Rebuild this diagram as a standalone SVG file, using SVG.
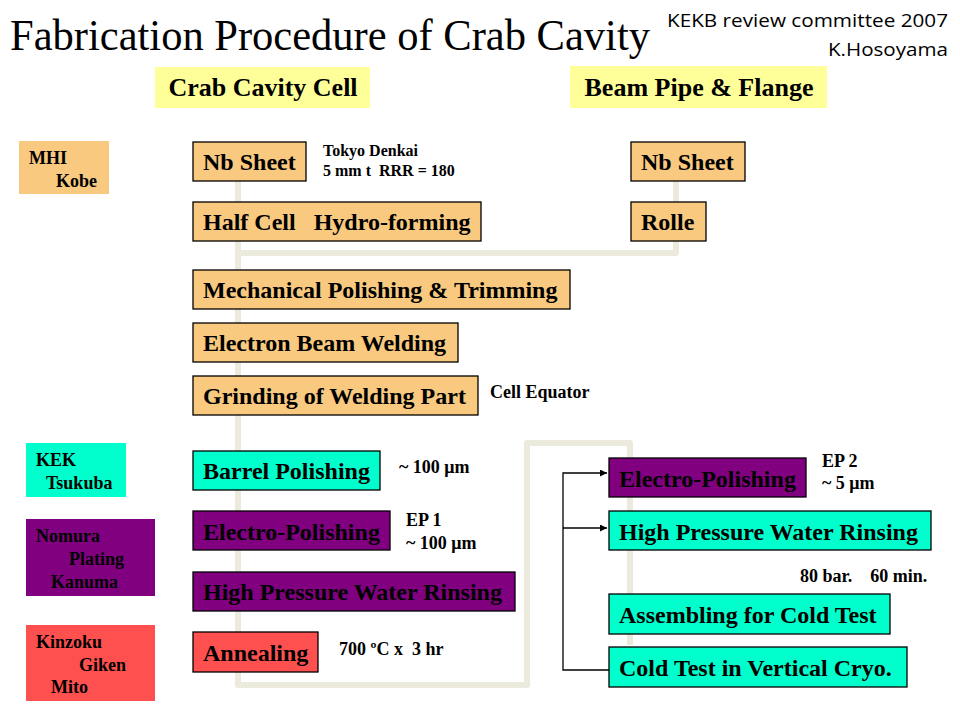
<svg xmlns="http://www.w3.org/2000/svg" width="960" height="720" viewBox="0 0 960 720">
<defs>
<marker id="ah" viewBox="0 0 10 10" refX="10" refY="5" markerWidth="7" markerHeight="7" orient="auto" markerUnits="userSpaceOnUse">
<path d="M0,0 L10,5 L0,10 z" fill="#000"/>
</marker>
<style>
.t{font-family:"Liberation Serif","Times New Roman",serif;font-weight:bold;fill:#000}
.bl{font-size:24px}
.an{font-size:18px}
.lg{font-size:18px}
.tan{fill:#F8C97F;stroke:#000;stroke-width:1.3}
.cy{fill:#00FFCC;stroke:#000;stroke-width:1.3}
.pu{fill:#800080;stroke:#000;stroke-width:1.3}
.rd{fill:#FF5050;stroke:#000;stroke-width:1.3}
.bg{fill:none;stroke:#ECE9DD;stroke-width:6;stroke-linejoin:round}
.ar{fill:none;stroke:#000;stroke-width:1.3}
</style>
</defs>
<rect width="960" height="720" fill="#fff"/>
<text x="10" y="50" font-family="Liberation Serif,Times New Roman,serif" font-size="45" textLength="640" lengthAdjust="spacingAndGlyphs">Fabrication Procedure of Crab Cavity</text>
<text x="948" y="27" font-family="Open Sans,Liberation Sans,sans-serif" font-size="19" text-anchor="end" textLength="281" lengthAdjust="spacingAndGlyphs">KEKB review committee 2007</text>
<text x="948" y="56" font-family="Open Sans,Liberation Sans,sans-serif" font-size="19" text-anchor="end" textLength="120" lengthAdjust="spacingAndGlyphs">K.Hosoyama</text>
<g id="hdr-cell"><rect x="155" y="67" width="215" height="41" fill="#FFFF99"/><text class="t" x="263" y="96" font-size="26" text-anchor="middle">Crab Cavity Cell</text></g>
<g id="hdr-pipe"><rect x="570" y="66" width="257" height="42" fill="#FFFF99"/><text class="t" x="699" y="96" font-size="26" text-anchor="middle">Beam Pipe &amp; Flange</text></g>
<g id="connectors">
<path class="bg" d="M238,180 V685 H527 V443 H630 V645"/>
<path class="bg" d="M238,253 H676 V180"/>
<path class="ar" d="M609,670 H563 V473 H607" marker-end="url(#ah)"/>
<path class="ar" d="M563,528 H607" marker-end="url(#ah)"/>
</g>
<g id="leg-mhi"><rect x="19" y="141" width="90" height="53" fill="#F8C97F"/><text class="t lg" x="29" y="164">MHI</text><text class="t lg" x="56" y="187">Kobe</text></g>
<g id="leg-kek"><rect x="26" y="443" width="100" height="54" fill="#00FFCC"/><text class="t lg" x="36" y="466">KEK</text><text class="t lg" x="46" y="489">Tsukuba</text></g>
<g id="leg-nomura"><rect x="26" y="519" width="129" height="77" fill="#800080"/><text class="t lg" x="36" y="542">Nomura</text><text class="t lg" x="69" y="565">Plating</text><text class="t lg" x="51" y="588">Kanuma</text></g>
<g id="leg-kinzoku"><rect x="26" y="625" width="129" height="76" fill="#FF5050"/><text class="t lg" x="36" y="648">Kinzoku</text><text class="t lg" x="79" y="671">Giken</text><text class="t lg" x="51" y="693">Mito</text></g>
<g id="n-nb1"><rect class="tan" x="193" y="142" width="113" height="39"/><text class="t bl" x="203" y="170">Nb Sheet</text></g>
<g id="n-half"><rect class="tan" x="193" y="202" width="288" height="39"/><text class="t bl" x="203" y="230" xml:space="preserve">Half Cell   Hydro-forming</text></g>
<g id="n-nb2"><rect class="tan" x="631" y="142" width="114" height="39"/><text class="t bl" x="641" y="170">Nb Sheet</text></g>
<g id="n-rolle"><rect class="tan" x="631" y="202" width="75" height="39"/><text class="t bl" x="641" y="230">Rolle</text></g>
<g id="n-mech"><rect class="tan" x="193" y="270" width="377" height="39"/><text class="t bl" x="203" y="298">Mechanical Polishing &amp; Trimming</text></g>
<g id="n-ebw"><rect class="tan" x="193" y="323" width="265" height="39"/><text class="t bl" x="203" y="351">Electron Beam Welding</text></g>
<g id="n-grind"><rect class="tan" x="193" y="376" width="285" height="39"/><text class="t bl" x="203" y="404">Grinding of Welding Part</text></g>
<g id="n-barrel"><rect class="cy" x="193" y="451" width="187" height="39"/><text class="t bl" x="203" y="479">Barrel Polishing</text></g>
<g id="n-ep1"><rect class="pu" x="193" y="511" width="197" height="39"/><text class="t bl" x="203" y="540">Electro-Polishing</text></g>
<g id="n-hpwr1"><rect class="pu" x="193" y="572" width="322" height="39"/><text class="t bl" x="203" y="600">High Pressure Water Rinsing</text></g>
<g id="n-anneal"><rect class="rd" x="193" y="632" width="125" height="40"/><text class="t bl" x="203" y="661">Annealing</text></g>
<g id="n-ep2"><rect class="pu" x="609" y="458" width="197" height="39"/><text class="t bl" x="619" y="487">Electro-Polishing</text></g>
<g id="n-hpwr2"><rect class="cy" x="609" y="511" width="322" height="39"/><text class="t bl" x="619" y="540">High Pressure Water Rinsing</text></g>
<g id="n-assy"><rect class="cy" x="609" y="594" width="281" height="40"/><text class="t bl" x="619" y="623">Assembling for Cold Test</text></g>
<g id="n-cold"><rect class="cy" x="609" y="647" width="298" height="40"/><text class="t bl" x="619" y="676">Cold Test in Vertical Cryo.</text></g>
<g id="notes">
<text class="t" x="323" y="156" font-size="16">Tokyo Denkai</text>
<text class="t" x="323" y="176" font-size="16" xml:space="preserve">5 mm t  RRR = 180</text>
<text class="t" x="490" y="398" font-size="18">Cell Equator</text>
<text class="t an" x="399" y="473">~ 100 μm</text>
<text class="t an" x="406" y="526">EP 1</text>
<text class="t an" x="406" y="549">~ 100 μm</text>
<text class="t an" x="339" y="655" xml:space="preserve">700 ºC x  3 hr</text>
<text class="t an" x="822" y="467">EP 2</text>
<text class="t an" x="822" y="489">~ 5 μm</text>
<text class="t an" x="800" y="582" xml:space="preserve">80 bar.    60 min.</text>
</g>
</svg>
